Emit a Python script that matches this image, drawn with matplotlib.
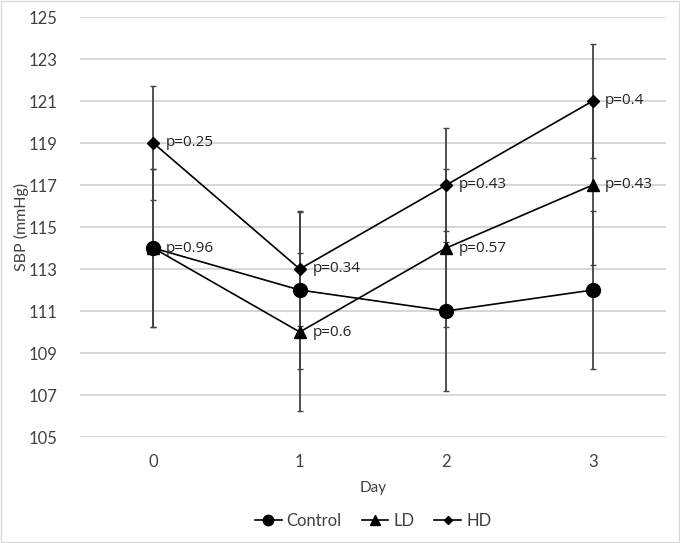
import numpy as np
import matplotlib.pyplot as plt

days = [0, 1, 2, 3]
control = [114, 112, 111, 112]
control_err = [3.75, 3.75, 3.8, 3.75]
ld = [114, 110, 114, 117]
ld_err = [3.75, 3.75, 3.75, 3.8]
hd = [119, 113, 117, 121]
hd_err = [2.7, 2.7, 2.7, 2.7]
ld_p = ["p=0.96", "p=0.6", "p=0.57", "p=0.43"]
hd_p = ["p=0.25", "p=0.34", "p=0.43", "p=0.4"]

fig = plt.figure(figsize=(6.8, 5.43), dpi=100)
ax = fig.add_axes([80 / 680, 1 - 437 / 543, (666 - 80) / 680, (437 - 17) / 543])

ecol = "#444444"
for y, e in [(control, control_err), (ld, ld_err), (hd, hd_err)]:
    ax.errorbar(days, y, yerr=e, fmt="none", ecolor=ecol, elinewidth=1.3,
                capsize=2.5, capthick=1.0, zorder=2)

ax.plot(days, control, color="black", lw=1.2, marker="o", ms=10, label="Control", zorder=3)
ax.plot(days, ld, color="black", lw=1.2, marker="^", ms=9, label="LD", zorder=3)
ax.plot(days, hd, color="black", lw=1.2, marker="D", ms=6, label="HD", zorder=3)

for x, y, t in zip(days, ld, ld_p):
    ax.annotate(t, (x, y), xytext=(9, 0), textcoords="offset points", va="center",
                fontsize=11, family="Open Sans", color="#222222")
for x, y, t in zip(days, hd, hd_p):
    ax.annotate(t, (x, y), xytext=(9, 0), textcoords="offset points", va="center",
                fontsize=11, family="Open Sans", color="#222222")

ax.set_xlim(-0.5, 3.5)
ax.set_ylim(105, 125)
ax.set_yticks(np.arange(105, 126, 2))
ax.set_xticks(days)
ax.grid(axis="y", color="#d0d0d0", lw=1.2)
ax.set_axisbelow(True)
for s in ax.spines.values():
    s.set_visible(False)
ax.tick_params(length=0, labelsize=12, colors="#404040", pad=12)
for lab in ax.get_xticklabels() + ax.get_yticklabels():
    lab.set_family("Lato")
ax.tick_params(axis="y", pad=16)
ax.set_xlabel("Day", fontsize=11, family="Lato", color="#404040", labelpad=8)
ax.set_ylabel("SBP (mmHg)", fontsize=11.5, family="Lato", color="#404040", labelpad=0)

leg = fig.legend(loc="center", bbox_to_anchor=(373 / 680, 1 - 521 / 543), ncol=3,
                 frameon=False, prop={"family": "Lato", "size": 12},
                 handlelength=1.6, columnspacing=1.2, handletextpad=0.3, markerscale=0.75)
for t in leg.get_texts():
    t.set_color("#404040")

fig.patches.append(plt.Rectangle((0.001, 0.001), 0.998, 0.998, transform=fig.transFigure,
                                 fill=False, edgecolor="#d9d9d9", lw=1))
fig.savefig("out.png", dpi=100)
